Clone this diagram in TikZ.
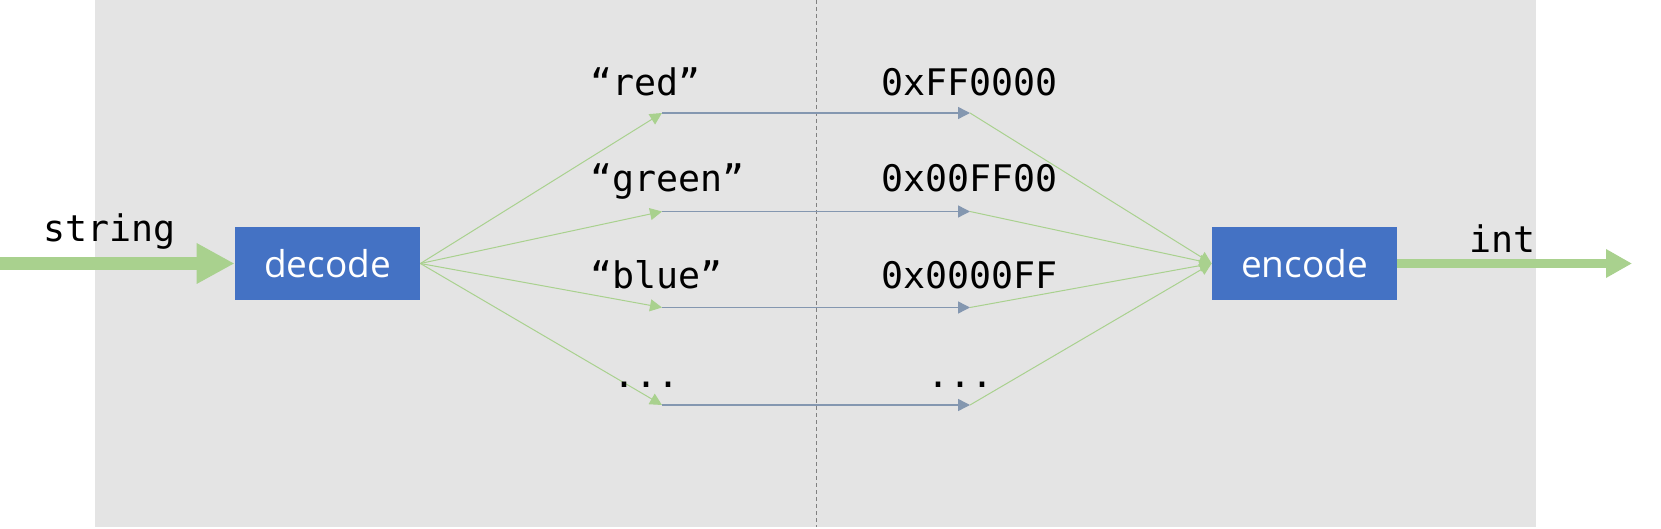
\documentclass[tikz,border=0pt]{standalone}
\usepackage{fontspec}
\setmainfont{Open Sans}
\setmonofont{DejaVu Sans Mono}
\usetikzlibrary{arrows.meta}

\definecolor{boxblue}{HTML}{4472C4}
\definecolor{leaf}{HTML}{A9D18E}
\definecolor{slate}{HTML}{8497B0}
\definecolor{bggray}{HTML}{E4E4E4}

\tikzstyle{block}=[fill=boxblue, text=white, minimum width=92.5pt, minimum height=36.5pt, inner sep=0pt, font=\fontsize{18.5}{22}\selectfont]
\tikzstyle{word}=[inner sep=0pt, anchor=base west, font=\fontsize{18.3}{22}\selectfont\ttfamily]
\tikzstyle{fan}=[draw=leaf, line width=0.5pt, -{Triangle[length=6pt,width=6pt]}]
\tikzstyle{map}=[draw=slate, line width=0.7pt, -{Triangle[length=6pt,width=6pt]}]
\tikzstyle{flow}=[draw=leaf]

\begin{document}
\begin{tikzpicture}[x=0.5pt, y=-0.5pt]
	\useasboundingbox (0,0) rectangle (1661,529);
	\fill[bggray] (95,0) rectangle (1536,527);
	\draw[gray, line width=0.5pt, dash pattern=on 2pt off 1.5pt] (816,0) -- (816,527);

	\node[block] (decode) at (327.5,263.5) {decode};
	\node[block] (encode) at (1304.5,263.5) {encode};
	\coordinate (in) at (0,263.5);
	\coordinate (out) at (1632,263.5);
	\path[flow, line width=6.5pt, -{Triangle[length=19pt,width=19pt]}] (in) -- (decode);
	\path[flow, line width=4.5pt, -{Triangle[length=13pt,width=13.5pt]}] (encode) -- (out);
	\node[word] (string) at (43,242) {string};
	\node[word] (int) at (1469,253) {int};

	\foreach \y/\n in {113/1, 211.5/2, 307.5/3, 405/4} {
		\coordinate (s\n) at (662,\y);
		\coordinate (h\n) at (970,\y);
		\path[fan] (decode.east) -- (s\n);
		\path[map] (s\n) -- (h\n);
		\path[fan] (h\n) -- (encode.west);
	}
	\foreach \y/\name/\txt in {96/red/{“red”}, 192/green/{“green”}, 289/blue/{“blue”}}
		\node[word] (\name) at (590,\y) {\txt};
	\node[word] (more) at (613,387) {...};
	\foreach \y/\name/\txt in {96/ff0000/0xFF0000, 192/00ff00/0x00FF00, 289/0000ff/0x0000FF}
		\node[word] (\name) at (881,\y) {\txt};
	\node[word] (hexmore) at (927,387) {...};
\end{tikzpicture}
\end{document}
